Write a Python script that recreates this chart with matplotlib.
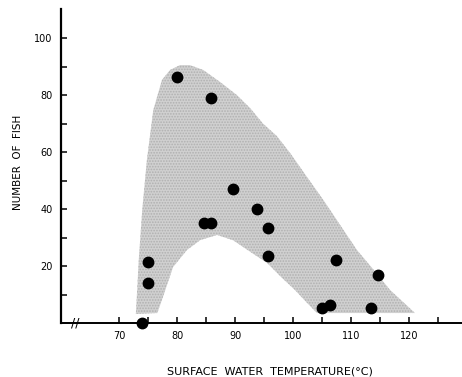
import matplotlib
matplotlib.use("Agg")
import matplotlib.pyplot as plt
from matplotlib.patches import Polygon
from matplotlib.ticker import FixedLocator

# Observations: surface water temperature vs number of fish
temp = [74.0, 75.0, 75.0, 80.0, 85.9, 84.6, 85.9, 89.7, 93.8, 95.7, 95.7,
        107.4, 114.7, 105.0, 106.4, 113.4]
fish = [0, 21.5, 14, 86.3, 79, 35, 35, 47, 40, 33.3, 23.5,
        22, 17, 5.3, 6.3, 5.3]

# Envelope (shaded region) boundary: outer edge, then inner edge back
env_x = [72.9, 73.1, 73.4, 74.0, 74.8, 75.9, 77.4, 78.8, 80.5, 82.2,
         84.5, 87.4, 90.3, 92.6, 94.8, 97.2, 99.5, 102.3, 105.2, 108.1,
         111.0, 113.9, 116.7, 121.0,
         104.1, 102.2, 100.3, 98.0, 95.5, 92.6, 89.7, 86.9, 84.0, 81.7,
         79.3, 77.8, 76.6]
env_y = [3.2, 10.5, 22.1, 39.6, 57.2, 74.7, 85.3, 88.8, 90.5, 90.5,
         88.8, 84.6, 80.0, 75.4, 70.0, 65.6, 59.6, 51.5, 43.2, 34.4,
         25.6, 18.6, 11.6, 3.5,
         3.5, 7.5, 11.6, 16.0, 21.1, 25.0, 29.0, 30.9, 29.1, 25.6,
         19.6, 10.5, 3.5]

xticks_major = [70, 80, 90, 100, 110, 120]
xticks_minor = [75, 85, 95, 105, 115, 125]
yticks_major = [20, 40, 60, 80, 100]
yticks_minor = [10, 30, 50, 70, 90]

plt.rcParams["hatch.color"] = "#7a7a7a"
plt.rcParams["hatch.linewidth"] = 0.8

fig = plt.figure(figsize=(4.62, 3.77), dpi=100)
ax = fig.add_axes([0.132, 0.1432, 0.868, 0.833])

poly = Polygon(list(zip(env_x, env_y)), closed=True, facecolor="#d0d0d0",
               edgecolor="#b0b0b0", linewidth=0.0, hatch="......", zorder=1)
ax.add_patch(poly)

ax.plot(temp, fish, "o", color="black", markersize=7.5, zorder=3, clip_on=False)

ax.set_xlim(60, 129.1)
ax.set_ylim(0, 110.2)

for s in ["top", "right"]:
    ax.spines[s].set_visible(False)
ax.spines["left"].set_linewidth(1.6)
ax.spines["bottom"].set_linewidth(1.4)

ax.xaxis.set_major_locator(FixedLocator(xticks_major))
ax.xaxis.set_minor_locator(FixedLocator(xticks_minor))
ax.yaxis.set_major_locator(FixedLocator(yticks_major))
ax.yaxis.set_minor_locator(FixedLocator(yticks_minor))
ax.set_xticklabels([str(v) for v in xticks_major])
ax.set_yticklabels([str(v) for v in yticks_major])

ax.tick_params(axis="both", which="both", direction="in", length=4,
               width=1.1, color="black", labelsize=7)
ax.tick_params(axis="x", which="major", pad=6)
ax.tick_params(axis="y", which="major", pad=6)

ax.set_xlabel("SURFACE  WATER  TEMPERATURE(°C)", fontsize=8, va="center")
ax.set_ylabel("NUMBER  OF  FISH", fontsize=7.5, va="center")
ax.xaxis.set_label_coords(0.52, -0.153)
ax.yaxis.set_label_coords(-0.107, 0.51)

# axis break mark
ax.text(62.5, 0, "//", fontsize=9, ha="center", va="center",
        clip_on=False, zorder=4)

fig.savefig("out.png", dpi=100)
